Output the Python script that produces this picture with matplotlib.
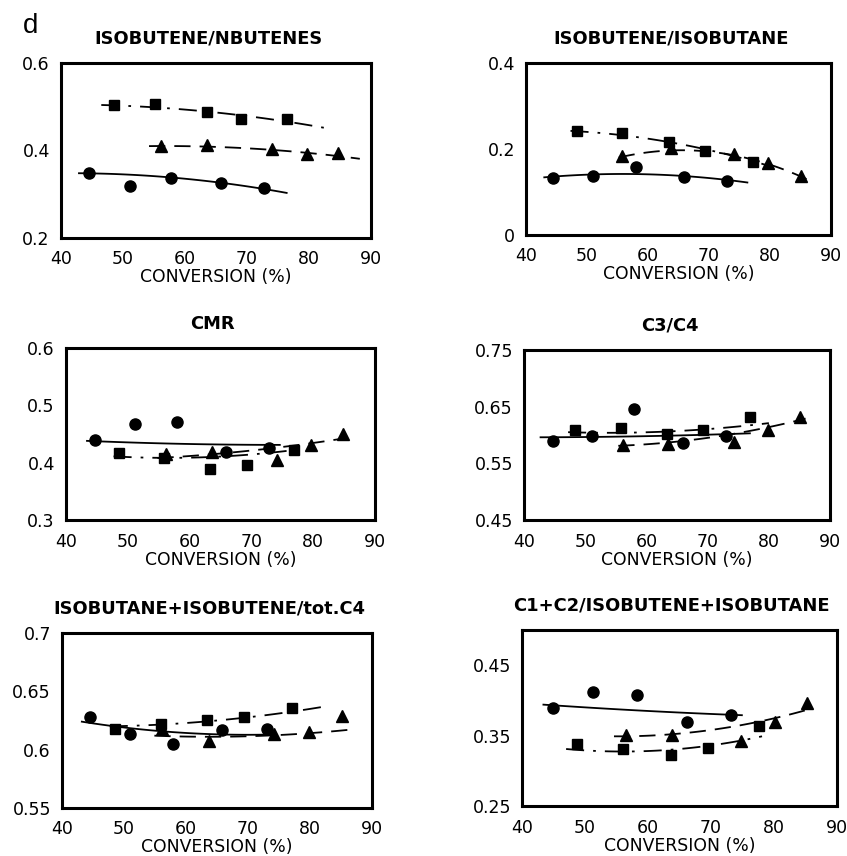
import numpy as np
import matplotlib
matplotlib.use("Agg")
import matplotlib.pyplot as plt

plt.rcParams["font.family"] = ["DejaVu Sans"]

titles = [
    "ISOBUTENE/NBUTENES",
    "ISOBUTENE/ISOBUTANE",
    "CMR",
    "C3/C4",
    "ISOBUTANE+ISOBUTENE/tot.C4",
    "C1+C2/ISOBUTENE+ISOBUTANE",
]
ylims = [(0.2, 0.6), (0.0, 0.4), (0.3, 0.6), (0.45, 0.75), (0.55, 0.7), (0.25, 0.5)]
yticks = [
    [0.2, 0.4, 0.6],
    [0, 0.2, 0.4],
    [0.3, 0.4, 0.5, 0.6],
    [0.45, 0.55, 0.65, 0.75],
    [0.55, 0.6, 0.65, 0.7],
    [0.25, 0.35, 0.45],
]
ytick_labels = [
    ["0.2", "0.4", "0.6"],
    ["0", "0.2", "0.4"],
    ["0.3", "0.4", "0.5", "0.6"],
    ["0.45", "0.55", "0.65", "0.75"],
    ["0.55", "0.6", "0.65", "0.7"],
    ["0.25", "0.35", "0.45"],
]
xticks = [40, 50, 60, 70, 80, 90]

# Measured points: conversion (%) and ratio, one list per panel
circle_x = [
    [44.5, 51.1, 57.8, 65.8, 72.8],
    [44.5, 51.0, 58.0, 65.9, 73.0],
    [44.7, 51.1, 58.0, 65.9, 72.8],
    [44.7, 51.1, 58.0, 66.0, 73.0],
    [44.5, 51.0, 57.9, 65.8, 73.0],
    [44.9, 51.3, 58.3, 66.2, 73.2],
]
circle_y = [
    [0.348, 0.319, 0.336, 0.325, 0.315],
    [0.132, 0.137, 0.157, 0.134, 0.126],
    [0.440, 0.468, 0.471, 0.418, 0.426],
    [0.589, 0.598, 0.646, 0.586, 0.599],
    [0.628, 0.613, 0.605, 0.617, 0.618],
    [0.389, 0.412, 0.408, 0.369, 0.379],
]
square_x = [
    [48.5, 55.2, 63.5, 69.1, 76.5],
    [48.4, 55.7, 63.4, 69.4, 77.2],
    [48.5, 55.8, 63.3, 69.3, 76.9],
    [48.4, 55.8, 63.3, 69.3, 77.0],
    [48.5, 55.9, 63.4, 69.4, 77.1],
    [48.7, 56.1, 63.7, 69.6, 77.6],
]
square_y = [
    [0.504, 0.506, 0.489, 0.472, 0.472],
    [0.241, 0.237, 0.217, 0.196, 0.169],
    [0.417, 0.408, 0.389, 0.396, 0.422],
    [0.609, 0.613, 0.602, 0.608, 0.631],
    [0.618, 0.622, 0.625, 0.628, 0.636],
    [0.338, 0.331, 0.322, 0.332, 0.363],
]
triangle_x = [
    [56.1, 63.5, 74.1, 79.6, 84.7],
    [55.8, 63.7, 74.1, 79.7, 85.1],
    [56.2, 63.6, 74.1, 79.7, 84.9],
    [56.2, 63.6, 74.3, 79.8, 85.1],
    [56.1, 63.7, 74.2, 79.9, 85.1],
    [56.5, 63.8, 74.7, 80.2, 85.3],
]
triangle_y = [
    [0.410, 0.412, 0.403, 0.392, 0.395],
    [0.184, 0.202, 0.189, 0.167, 0.137],
    [0.415, 0.419, 0.405, 0.430, 0.450],
    [0.582, 0.584, 0.587, 0.609, 0.631],
    [0.618, 0.607, 0.613, 0.615, 0.629],
    [0.351, 0.351, 0.343, 0.370, 0.396],
]

# Second-order trend lines: (start, middle, end) conversion and ratio
circle_trend_x = [
    [42.9, 58.0, 76.4], [43.0, 60.0, 76.3], [43.4, 58.0, 74.6],
    [42.7, 60.0, 76.9], [43.2, 58.0, 74.0], [43.4, 60.0, 74.9],
]
circle_trend_y = [
    [0.348, 0.338, 0.303], [0.134, 0.141, 0.122], [0.438, 0.433, 0.431],
    [0.596, 0.598, 0.603], [0.624, 0.615, 0.613], [0.394, 0.385, 0.379],
]
square_trend_x = [
    [46.5, 63.5, 82.8], [47.3, 65.0, 80.0], [47.7, 61.0, 79.0],
    [47.2, 63.0, 80.0], [47.7, 65.0, 82.4], [47.0, 62.0, 78.1],
]
square_trend_y = [
    [0.504, 0.489, 0.451], [0.242, 0.212, 0.160], [0.411, 0.409, 0.425],
    [0.605, 0.606, 0.621], [0.620, 0.625, 0.637], [0.331, 0.329, 0.349],
]
triangle_trend_x = [
    [54.2, 70.0, 88.2], [55.2, 68.0, 86.0], [54.8, 68.0, 85.4],
    [55.4, 70.0, 86.0], [54.9, 70.0, 86.2], [54.6, 70.0, 85.8],
]
triangle_trend_y = [
    [0.410, 0.405, 0.381], [0.180, 0.196, 0.130], [0.408, 0.419, 0.443],
    [0.581, 0.595, 0.629], [0.612, 0.6115, 0.617], [0.349, 0.358, 0.388],
]

# Axes rectangles [left, bottom, width, height] in figure fractions
positions = [
    [0.072, 0.722, 0.366, 0.2044],
    [0.621, 0.7255, 0.360, 0.201],
    [0.0779, 0.3925, 0.3648, 0.201],
    [0.6187, 0.3925, 0.3613, 0.1986],
    [0.0732, 0.0561, 0.366, 0.2044],
    [0.6163, 0.0584, 0.3719, 0.2056],
]

fig = plt.figure(figsize=(8.47, 8.56), dpi=100)


def trend(ax, tx, ty, style):
    coef = np.polyfit(tx, ty, 2)
    xx = np.linspace(tx[0], tx[-1], 120)
    ax.plot(xx, np.polyval(coef, xx), color="black", lw=1.3, **style)


for i in range(6):
    ax = fig.add_axes(positions[i])
    trend(ax, circle_trend_x[i], circle_trend_y[i], dict(linestyle="-"))
    trend(ax, square_trend_x[i], square_trend_y[i],
          dict(linestyle=(0, (10, 5, 1.5, 5))))
    trend(ax, triangle_trend_x[i], triangle_trend_y[i],
          dict(linestyle=(0, (9, 5))))
    ax.plot(circle_x[i], circle_y[i], "o", color="black", ms=8, ls="none")
    ax.plot(square_x[i], square_y[i], "s", color="black", ms=7.3, ls="none")
    ax.plot(triangle_x[i], triangle_y[i], "^", color="black", ms=8.5, ls="none")

    ax.set_xlim(40, 90)
    ax.set_ylim(*ylims[i])
    ax.set_xticks(xticks)
    ax.set_yticks(yticks[i])
    ax.set_yticklabels(ytick_labels[i])
    ax.tick_params(length=0, labelsize=12.5)
    ax.tick_params(axis="x", pad=9)
    ax.tick_params(axis="y", pad=8)
    for s in ax.spines.values():
        s.set_linewidth(2.2)
    ax.set_xlabel("CONVERSION (%)", fontsize=12.4, labelpad=0)
    ax.set_title(titles[i], fontsize=12.9, fontweight="bold", x=0.475, pad=14)

fig.text(0.027, 0.961, "d", fontsize=20, family="Liberation Sans")

fig.savefig("out.png", dpi=100)
